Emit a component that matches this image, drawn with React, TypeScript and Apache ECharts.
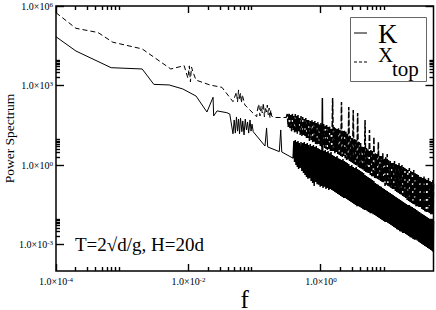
import React, { useEffect, useRef } from "react";
import * as echarts from "echarts";

const SERIF = "'Liberation Serif', 'DejaVu Serif', 'Times New Roman', serif";

// Axis ranges and ticks
const X_MIN = 1e-4;
const X_MAX = 50;
const Y_MIN = 1e-4;
const Y_MAX = 1e6;
const xMajor = [1e-4, 1e-2, 1];
const xMajorExp = ["-4", "-2", "0"];
const xMinor = [
  2e-4, 3e-4, 4e-4, 5e-4, 6e-4, 7e-4, 8e-4, 9e-4,
  2e-2, 3e-2, 4e-2, 5e-2, 6e-2, 7e-2, 8e-2, 9e-2,
  2, 3, 4, 5, 6, 7, 8, 9,
];
const yMajor = [1e-3, 1, 1e3, 1e6];
const yMajorExp = ["-3", "0", "3", "6"];
const yMinor = [
  2e-3, 3e-3, 4e-3, 5e-3, 6e-3, 7e-3, 8e-3, 9e-3,
  2, 3, 4, 5, 6, 7, 8, 9,
  2e3, 3e3, 4e3, 5e3, 6e3, 7e3, 8e3, 9e3,
];

// Low-frequency part of K (solid) : [f, power]
const kLow: [number, number][] = [
  [1e-4, 6.9e4], [2e-4, 2.0e4], [6.8e-4, 4.7e3], [2.0e-3, 4.2e3], [3.0e-3, 1.1e3],
  [5.1e-3, 1.05e3], [8.2e-3, 740], [1.3e-2, 400], [1.9e-2, 100], [2.35e-2, 360],
  [2.4e-2, 71], [2.7e-2, 110], [3.8e-2, 94], [4.2e-2, 84], [4.7e-2, 15],
  [4.9e-2, 50], [5.1e-2, 16], [5.3e-2, 65], [5.5e-2, 19], [5.7e-2, 54],
  [5.9e-2, 15], [6.1e-2, 59], [6.4e-2, 18], [6.6e-2, 46], [6.9e-2, 13.6],
  [7.2e-2, 54], [7.5e-2, 21], [7.8e-2, 42], [8.1e-2, 16], [8.5e-2, 50],
  [8.8e-2, 19], [9.1e-2, 35], [9.5e-2, 18], [0.143, 5.2], [0.151, 25],
  [0.157, 4.8], [0.235, 3.2], [0.247, 21], [0.256, 3.1], [0.38, 1.8],
];

// Low-frequency part of x_top (dashed) : [f, power]
const xLow: [number, number][] = [
  [1e-4, 5.6e5], [2e-4, 1.44e5], [4.3e-4, 1.0e5], [7.2e-4, 4.3e4], [2.0e-3, 2.4e4],
  [5.4e-3, 4.2e3], [8.6e-3, 5.6e3], [9.8e-3, 1.9e3], [1.03e-2, 5.5e3], [1.07e-2, 1.36e3],
  [1.11e-2, 5.0e3], [1.17e-2, 3.2e3], [1.3e-2, 1.6e3], [2.1e-2, 1.05e3], [3.2e-2, 850],
  [4.7e-2, 245], [5.3e-2, 565], [5.5e-2, 238], [5.7e-2, 680], [5.9e-2, 284],
  [6.1e-2, 520], [6.3e-2, 220], [6.5e-2, 440], [7.1e-2, 184], [0.107, 66],
  [0.11, 119], [0.115, 200], [0.12, 71], [0.125, 168], [0.13, 92],
  [0.135, 220], [0.14, 65], [0.145, 155], [0.15, 100], [0.155, 183],
  [0.16, 78], [0.165, 141], [0.17, 59], [0.175, 119], [0.18, 71],
  [0.19, 62], [0.30, 62],
];

// High-frequency (dense) part: shared frequencies
const fDense = [
  0.31, 0.32, 0.33, 0.34, 0.35, 0.36, 0.37, 0.38, 0.39, 0.4, 0.41, 0.42, 0.43, 0.44, 0.45, 0.46, 0.47, 0.485, 0.5, 0.515,
  0.53, 0.545, 0.56, 0.575, 0.59, 0.605, 0.62, 0.635, 0.65, 0.67, 0.69, 0.71, 0.73, 0.75, 0.77, 0.79, 0.81, 0.83, 0.85, 0.875,
  0.9, 0.925, 0.95, 0.975, 1.0, 1.025, 1.05, 1.075, 1.1, 1.13, 1.16, 1.19, 1.22, 1.25, 1.28, 1.315, 1.35, 1.385, 1.42, 1.46,
  1.5, 1.54, 1.58, 1.62, 1.66, 1.705, 1.75, 1.795, 1.84, 1.89, 1.94, 1.99, 2.04, 2.095, 2.15, 2.205, 2.26, 2.32, 2.38, 2.44,
  2.5, 2.565, 2.63, 2.7, 2.77, 2.845, 2.92, 2.995, 3.07, 3.15, 3.23, 3.315, 3.4, 3.49, 3.58, 3.675, 3.77, 3.87, 3.97, 4.075,
  4.18, 4.29, 4.4, 4.515, 4.63, 4.75, 4.87, 5.0, 5.13, 5.265, 5.4, 5.54, 5.68, 5.83, 5.98, 6.14, 6.3, 6.465, 6.63, 6.805,
  6.98, 7.165, 7.35, 7.545, 7.74, 7.945, 8.15, 8.365, 8.58, 8.805, 9.03, 9.265, 9.5, 9.75, 10, 10.25, 10.5, 10.8, 11.1, 11.4,
  11.7, 12.0, 12.3, 12.6, 12.9, 13.25, 13.6, 13.95, 14.3, 14.7, 15.1, 15.5, 15.9, 16.3, 16.7, 17.15, 17.6, 18.05, 18.5, 19.0,
  19.5, 20.0, 20.5, 21.05, 21.6, 22.15, 22.7, 23.3, 23.9, 24.55, 25.2, 25.85, 26.5, 27.2, 27.9, 28.65, 29.4, 30.15, 30.9, 31.7,
  32.5, 33.35, 34.2, 35.1, 36, 36.95, 37.9, 38.9, 39.9, 40.95, 42, 43.1, 44.2, 45.35, 46.5, 47.75, 49, 49.5, 50,
];
const xDense = [
  84, 27, 92, 23, 77, 19, 92, 21, 71, 16, 84, 18, 71, 15, 77, 19, 65, 13.6, 71, 12.4,
  65, 13.6, 54, 11.4, 59, 9.6, 50, 10.4, 54, 8.1, 46, 8.8, 50, 6.8, 42, 7.4, 46, 6.2, 38, 5.7,
  42, 6.2, 35, 5.2, 38, 4.8, 32, 5.2, 35, 4.4, 30, 4.0, 32, 3.7, 27, 4.0, 30, 3.4, 25, 3.1,
  340, 3.4, 27, 2.8, 25, 3.1, 23, 2.6, 25, 2.4, 21, 2.2, 238, 2.0, 19, 2.2, 21, 1.8, 18, 1.55,
  15, 1.55, 155, 1.42, 12.4, 1.3, 10.4, 1.19, 119, 1.09, 9.6, 1.0, 8.8, 0.92, 92, 0.84, 7.4, 0.77, 6.8, 0.71,
  5.2, 0.65, 4.8, 0.59, 50, 0.54, 4.4, 0.5, 4.0, 0.46, 21, 0.42, 3.7, 0.38, 3.4, 0.35, 11.4, 0.32, 2.8, 0.32,
  2.6, 0.3, 7.4, 0.27, 2.4, 0.25, 2.2, 0.23, 2.8, 0.21, 1.8, 0.16, 2.0, 0.18, 2.6, 0.16, 1.55, 0.15, 1.42, 0.135,
  1.3, 0.124, 1.19, 0.114, 1.42, 0.105, 1.09, 0.096, 1.0, 0.088, 1.19, 0.08, 0.92, 0.074, 1.0, 0.068, 0.84, 0.062, 0.77, 0.057,
  0.71, 0.048, 0.65, 0.044, 0.77, 0.04, 0.59, 0.037, 0.54, 0.034, 0.65, 0.031, 0.5, 0.028, 0.46, 0.028, 0.42, 0.026, 0.38, 0.024,
  0.35, 0.022, 0.32, 0.02, 0.38, 0.018, 0.3, 0.017, 0.27, 0.017, 0.32, 0.015, 0.25, 0.014, 0.23, 0.014, 0.27, 0.013, 0.21,
];
const kDense = [
  null, null, null, null, null, null, null, null, 8.1, 1.3, 8.8, 1.0, 7.4, 0.84, 8.1, 0.71, 6.8, 0.77, 7.4, 0.59,
  6.8, 0.5, 7.4, 0.42, 6.2, 0.35, 6.8, 0.3, 5.7, 0.32, 6.2, 0.25, 5.2, 0.21, 5.7, 0.16, 4.8, 0.23, 5.2, 0.19,
  4.4, 0.18, 4.0, 0.15, 3.7, 0.16, 340, 0.135, 3.4, 0.15, 3.7, 0.124, 3.1, 0.135, 3.4, 0.114, 2.8, 0.124, 3.1, 0.114,
  2.4, 0.105, 2.2, 0.096, 2.0, 0.088, 2.2, 0.08, 1.8, 0.074, 1.7, 0.068, 1.55, 0.062, 1.7, 0.057, 1.42, 0.057, 1.3, 0.052,
  1.19, 0.048, 1.09, 0.044, 0.92, 0.04, 1.0, 0.037, 0.84, 0.034, 0.77, 0.031, 0.84, 0.028, 0.71, 0.028, 0.65, 0.026, 0.59, 0.024,
  0.54, 0.022, 0.5, 0.02, 0.42, 0.02, 0.38, 0.018, 0.35, 0.017, 0.32, 0.015, 0.3, 0.015, 0.27, 0.014, 0.25, 0.013, 0.21, 0.012,
  0.19, 0.011, 0.18, 0.01, 0.16, 0.0092, 0.15, 0.0084, 0.135, 0.0077, 0.124, 0.0071, 0.114, 0.0071, 0.105, 0.0065, 0.096, 0.0059, 0.088, 0.0054,
  0.08, 0.005, 0.074, 0.0046, 0.068, 0.0042, 0.062, 0.0038, 0.057, 0.0035, 0.052, 0.0032, 0.048, 0.003, 0.044, 0.0027, 0.04, 0.0027, 0.037, 0.0025,
  0.034, 0.0023, 0.031, 0.0021, 0.031, 0.0019, 0.028, 0.0018, 0.026, 0.0016, 0.024, 0.0015, 0.022, 0.0015, 0.02, 0.0014, 0.018, 0.00124, 0.017, 0.00114,
  0.015, 0.00104, 0.014, 0.00096, 0.013, 0.00088, 0.012, 0.00081, 0.011, 0.00074, 0.01, 0.00068, 0.0092, 0.00062, 0.0084, 0.00057, 0.0084, 0.00052, 0.0077,
];

const seriesNames = ["K", "x_top"];

const richLabel = {
  b: { fontFamily: SERIF, fontSize: 10, color: "#000", verticalAlign: "bottom", lineHeight: 10 },
  s: { fontFamily: SERIF, fontSize: 7, color: "#000", verticalAlign: "top", lineHeight: 8, padding: [0, 0, 6, 0] },
};

function expFormatter(major: number[], exps: string[]) {
  return (value: number) => {
    const i = major.findIndex((v) => Math.abs(Math.log10(v) - Math.log10(value)) < 1e-6);
    if (i < 0) return "";
    return `{b|1.0×10}{s|${exps[i]}}`;
  };
}

const legendAndNotes = [
  { id: "lg-box", type: "rect", shape: { x: 350.5, y: 17.5, width: 76, height: 64 }, style: { fill: "#fff", stroke: "#666", lineWidth: 1 }, z: 10 },
  { id: "lg-k-line", type: "line", shape: { x1: 354, y1: 33, x2: 367, y2: 33 }, style: { stroke: "#000", lineWidth: 1 }, z: 11 },
  { id: "lg-k-text", type: "text", x: 378, y: 34, style: { text: "K", fontFamily: SERIF, fontSize: 27, fill: "#000", verticalAlign: "middle" }, z: 11 },
  { id: "lg-x-line", type: "line", shape: { x1: 354, y1: 62, x2: 367, y2: 62 }, style: { stroke: "#000", lineWidth: 1, lineDash: [3, 2] }, z: 11 },
  { id: "lg-x-text", type: "text", x: 378, y: 55, style: { text: "X", fontFamily: SERIF, fontSize: 21, fill: "#000", verticalAlign: "middle" }, z: 11 },
  { id: "lg-x-sub", type: "text", x: 392, y: 69, style: { text: "top", fontFamily: SERIF, fontSize: 21, fill: "#000", verticalAlign: "middle" }, z: 11 },
  { id: "note", type: "text", x: 75, y: 244, style: { text: "T=2√d/g, H=20d", fontFamily: SERIF, fontSize: 19, fill: "#000", verticalAlign: "middle" }, z: 11 },
];

export default function App() {
  const ref = useRef<HTMLDivElement>(null);

  useEffect(() => {
    if (!ref.current) return;
    const chart = echarts.init(ref.current, undefined, { renderer: "svg" });

    const kHigh = fDense.map((f, i) => [f, kDense[i]]).filter((p) => p[1] != null);
    const xHigh = fDense.map((f, i) => [f, xDense[i]]);

    chart.setOption({
      animation: false,
      backgroundColor: "#fff",
      grid: {
        left: 56, top: 6, width: 377.5, height: 265, containLabel: false, outerBoundsMode: "none",
        show: true, borderColor: "#000", borderWidth: 1.5, backgroundColor: "transparent",
      },
      xAxis: {
        type: "log", logBase: 10, min: X_MIN, max: X_MAX,
        axisLine: { show: false }, axisTick: { show: false }, splitLine: { show: false },
        axisLabel: { show: true, customValues: xMajor, formatter: expFormatter(xMajor, xMajorExp), rich: richLabel, margin: 5 },
        name: "f", nameLocation: "middle", nameGap: 19, nameMoveOverlap: false,
        nameTextStyle: { fontFamily: SERIF, fontSize: 25, lineHeight: 18, color: "#000" },
      },
      yAxis: {
        type: "log", logBase: 10, min: Y_MIN, max: Y_MAX,
        axisLine: { show: false }, axisTick: { show: false }, splitLine: { show: false },
        axisLabel: { show: true, customValues: yMajor, formatter: expFormatter(yMajor, yMajorExp), rich: richLabel, margin: 3 },
        name: "Power Spectrum", nameLocation: "middle", nameGap: 40, nameMoveOverlap: false,
        nameTextStyle: { fontFamily: SERIF, fontSize: 13.5, color: "#000" },
      },
      series: [
        {
          name: seriesNames[0], type: "line", data: kLow,
          showSymbol: false, symbol: "none", clip: true, silent: true,
          lineStyle: { color: "#000", width: 1, type: "solid" },
        },
        {
          name: seriesNames[0], type: "line", data: [kLow[kLow.length - 1], ...kHigh],
          showSymbol: false, symbol: "none", clip: true, silent: true,
          lineStyle: { color: "#000", width: 1.5, type: "solid" },
        },
        {
          name: seriesNames[1], type: "line", data: xLow,
          showSymbol: false, symbol: "none", clip: true, silent: true,
          lineStyle: { color: "#000", width: 1, type: [5, 3] },
        },
        {
          name: seriesNames[1], type: "line", data: [xLow[xLow.length - 1], ...xHigh],
          showSymbol: false, symbol: "none", clip: true, silent: true,
          lineStyle: { color: "#000", width: 1.5, type: [6, 2] },
        },
      ],
      graphic: legendAndNotes,
    });

    // Inward tick marks on all four sides, positioned by the chart's own axis scales
    const ticks: any[] = [];
    let n = 0;
    const snap = (v: number) => Math.round(v - 0.5) + 0.5;
    const tickLine = (x1: number, y1: number, x2: number, y2: number) => {
      ticks.push({
        id: "tick-" + n++, type: "line", shape: { x1, y1, x2, y2 },
        style: { stroke: "#000", lineWidth: 1.4 }, z: 12,
      });
    };
    const addX = (v: number, len: number) => {
      const b = chart.convertToPixel({ gridIndex: 0 }, [v, Y_MIN]) as number[];
      const t = chart.convertToPixel({ gridIndex: 0 }, [v, Y_MAX]) as number[];
      if (!b || !t || !isFinite(b[0])) return;
      const x = snap(b[0]);
      tickLine(x, b[1], x, b[1] - len);
      tickLine(x, t[1], x, t[1] + len);
    };
    const addY = (v: number, len: number) => {
      const l = chart.convertToPixel({ gridIndex: 0 }, [X_MIN, v]) as number[];
      const r = chart.convertToPixel({ gridIndex: 0 }, [X_MAX, v]) as number[];
      if (!l || !r || !isFinite(l[1])) return;
      const y = snap(l[1]);
      tickLine(l[0], y, l[0] + len, y);
      tickLine(r[0], y, r[0] - len, y);
    };
    xMajor.forEach((v) => addX(v, 7));
    xMinor.forEach((v) => addX(v, 4));
    yMajor.forEach((v) => addY(v, 8));
    yMinor.forEach((v) => addY(v, 4));

    chart.setOption({ graphic: [...legendAndNotes, ...ticks] });

    return () => chart.dispose();
  }, []);

  return (
    <div
      ref={ref}
      style={{ position: "fixed", left: 0, top: 0, width: 436, height: 310, background: "#fff" }}
    />
  );
}
